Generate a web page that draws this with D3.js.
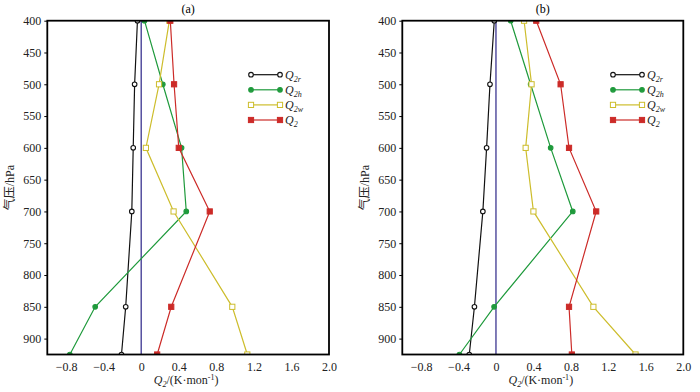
<!DOCTYPE html>
<html>
<head>
<meta charset="utf-8">
<script src="https://cdn.jsdelivr.net/npm/d3@7"></script>
<style>
  body { margin: 0; background: #fff; }
  svg text { font-family: "Liberation Serif", "Noto Sans CJK SC", serif; }
</style>
</head>
<body>
<div id="main"></div>
<script>
// pressure levels (hPa)
const levels = [400, 500, 600, 700, 850, 925];
// panel (a)
const aQ2r = [-0.04, -0.07, -0.085, -0.10, -0.165, -0.21];
const aQ2h = [0.035, 0.23, 0.43, 0.48, -0.49, -0.76];
const aQ2w = [0.30, 0.19, 0.05, 0.345, 0.97, 1.13];
const aQ2 = [0.31, 0.35, 0.40, 0.73, 0.32, 0.17];
// panel (b)
const bQ2r = [-0.018, -0.064, -0.10, -0.14, -0.23, -0.285];
const bQ2h = [0.157, 0.37, 0.584, 0.82, -0.02, -0.39];
const bQ2w = [0.30, 0.38, 0.317, 0.40, 1.04, 1.49];
const bQ2 = [0.43, 0.69, 0.78, 1.07, 0.78, 0.81];
// tick labels
const xTicks = [-0.8, -0.4, 0, 0.4, 0.8, 1.2, 1.6, 2.0];
const yTicks = [400, 450, 500, 550, 600, 650, 700, 750, 800, 850, 900];
const seriesNames = ['2r', '2h', '2w', '2'];
const panelTitles = ['(a)', '(b)'];

// series styles: colour + marker kind
const styles = [
  { color: '#111', marker: 'circle', fill: '#fff' },
  { color: '#1f9a3c', marker: 'circle', fill: '#1f9a3c' },
  { color: '#cdbd2c', marker: 'square', fill: '#fff' },
  { color: '#cc2b28', marker: 'square', fill: '#cc2b28' }
];

const serif = '"Liberation Serif", "Noto Sans CJK SC", serif';

const svg = d3.select('#main').append('svg')
  .attr('width', 700).attr('height', 392);

function fmt(v) {
  return v === 0 ? '0' : d3.format('.1f')(v);
}

function drawPanel(left, right, title, data, legendX, idx) {
  const top = 20.7, bottom = 354.5;
  const x = d3.scaleLinear().domain([-1, 2]).range([left, right]);
  const y = d3.scaleLinear().domain([400, 925]).range([top, bottom]);
  const g = svg.append('g');

  g.append('clipPath').attr('id', 'clip' + idx)
    .append('rect').attr('x', left).attr('y', top)
    .attr('width', right - left).attr('height', bottom - top);

  // axes
  const xAxis = d3.axisBottom(x).tickValues(xTicks).tickFormat(fmt).tickSize(0).tickPadding(8);
  g.append('g').attr('transform', `translate(0,${bottom})`).call(xAxis)
    .attr('font-family', serif).attr('font-size', 12)
    .call(s => s.select('.domain').remove())
    .selectAll('text').attr('fill', '#222');
  const yAxis = d3.axisLeft(y).tickValues(yTicks).tickSize(3).tickPadding(3);
  g.append('g').attr('transform', `translate(${left},0)`).call(yAxis)
    .attr('font-family', serif).attr('font-size', 12)
    .call(s => s.select('.domain').remove())
    .selectAll('text').attr('fill', '#222');

  // zero line
  g.append('line')
    .attr('x1', x(0)).attr('x2', x(0)).attr('y1', top).attr('y2', bottom)
    .attr('stroke', '#3b3590').attr('stroke-width', 1.3);

  const plot = g.append('g').attr('clip-path', `url(#clip${idx})`);
  const line = d3.line().x(d => x(d[0])).y(d => y(d[1]));
  data.forEach((vals, i) => {
    const st = styles[i];
    const pts = vals.map((v, j) => [v, levels[j]]);
    plot.append('path').attr('d', line(pts))
      .attr('fill', 'none').attr('stroke', st.color).attr('stroke-width', 1.2);
    pts.forEach(p => drawMarker(plot, x(p[0]), y(p[1]), st));
  });

  // frame
  g.append('rect').attr('x', left).attr('y', top)
    .attr('width', right - left).attr('height', bottom - top)
    .attr('fill', 'none').attr('stroke', '#000').attr('stroke-width', 1.8);

  // title
  g.append('text').attr('x', (left + right) / 2).attr('y', 13)
    .attr('text-anchor', 'middle').style('font-size', '12px').text(title);

  // x label
  const xl = g.append('text').attr('x', (left + right) / 2 - 2).attr('y', 384)
    .attr('text-anchor', 'middle').style('font-size', '12px').attr('fill', '#222');
  xl.append('tspan').style('font-style', 'italic').text('Q');
  xl.append('tspan').attr('dy', 3).style('font-size', '8px').style('font-style', 'italic').text('2');
  xl.append('tspan').attr('dy', -3).text('/(K·mon');
  xl.append('tspan').attr('dy', -4).style('font-size', '8px').text('-1');
  xl.append('tspan').attr('dy', 4).text(')');

  // y label
  g.append('text')
    .attr('transform', `translate(${left - 33},${(top + bottom) / 2}) rotate(-90)`)
    .attr('text-anchor', 'middle').style('font-size', '12px').attr('fill', '#222')
    .text('气压/hPa');

  // legend
  seriesNames.forEach((name, i) => {
    const st = styles[i];
    const ly = 74.7 + i * 15.1;
    g.append('line').attr('x1', legendX).attr('x2', legendX + 29)
      .attr('y1', ly).attr('y2', ly).attr('stroke', st.color).attr('stroke-width', 1.2);
    drawMarker(g, legendX, ly, st);
    drawMarker(g, legendX + 29, ly, st);
    const t = g.append('text').attr('x', legendX + 34).attr('y', ly + 4)
      .style('font-size', '12px').style('font-style', 'italic').attr('fill', '#222');
    t.append('tspan').text('Q');
    t.append('tspan').attr('dy', 3).style('font-size', '8px').text(name);
  });
}

function drawMarker(sel, cx, cy, st) {
  if (st.marker === 'circle') {
    sel.append('circle').attr('cx', cx).attr('cy', cy).attr('r', 2.3)
      .attr('fill', st.fill).attr('stroke', st.color).attr('stroke-width', 1.1);
  } else {
    sel.append('rect').attr('x', cx - 2.6).attr('y', cy - 2.6).attr('width', 5.2).attr('height', 5.2)
      .attr('fill', st.fill).attr('stroke', st.color).attr('stroke-width', 1);
  }
}

drawPanel(47.3, 329, panelTitles[0], [aQ2r, aQ2h, aQ2w, aQ2], 251, 0);
drawPanel(402.3, 683.3, panelTitles[1], [bQ2r, bQ2h, bQ2w, bQ2], 613, 1);
</script>
</body>
</html>
